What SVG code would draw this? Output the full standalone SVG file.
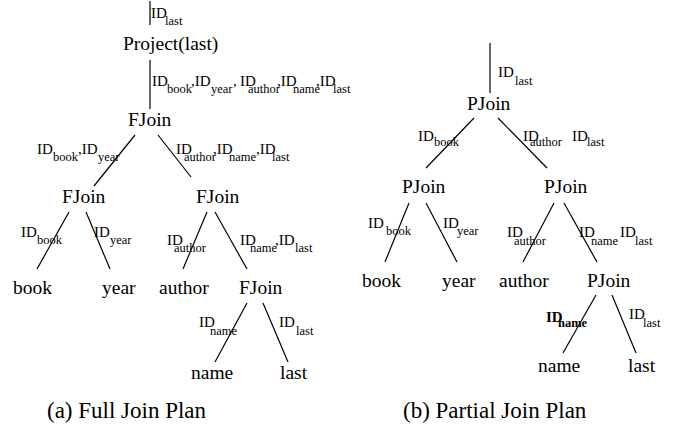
<svg xmlns="http://www.w3.org/2000/svg" width="673" height="428" viewBox="0 0 673 428">
<style>
.n{font-family:"Liberation Serif","Times New Roman",serif;font-size:19.5px;fill:#000}
.id{font-family:"Liberation Serif","Times New Roman",serif;font-size:15px;fill:#000}
.s{font-size:12.5px}
.b{font-weight:bold}
.cap{font-family:"Liberation Serif","Times New Roman",serif;font-size:23px;fill:#000}
line{stroke:#000;stroke-width:1.2}
</style>
<rect width="673" height="428" fill="#fff"/>
<g id="connectors">
<line x1="150" y1="1" x2="150" y2="25"/>
<line x1="150" y1="60" x2="150" y2="109"/>
<line x1="135" y1="135" x2="94" y2="186"/>
<line x1="158" y1="135" x2="191" y2="177"/>
<line x1="69" y1="212" x2="37" y2="269"/>
<line x1="86" y1="212" x2="110" y2="269"/>
<line x1="207" y1="212" x2="183" y2="269"/>
<line x1="215" y1="212" x2="247" y2="269"/>
<line x1="247" y1="303" x2="215" y2="362"/>
<line x1="263" y1="303" x2="288" y2="362"/>
<line x1="490" y1="43" x2="490" y2="93"/>
<line x1="474" y1="118" x2="426" y2="168"/>
<line x1="498" y1="118" x2="547" y2="168"/>
<line x1="409" y1="203" x2="385" y2="262"/>
<line x1="426" y1="203" x2="457" y2="262"/>
<line x1="554" y1="203" x2="523" y2="262"/>
<line x1="564" y1="203" x2="597" y2="262"/>
<line x1="596" y1="295" x2="563" y2="353"/>
<line x1="612" y1="295" x2="636" y2="353"/>
</g>
<g id="edge-labels">
<text class="id" x="151" y="18">ID<tspan class="s" x="165" y="25">last</tspan></text>
<text class="id" x="152" y="86">ID<tspan class="s" x="167" y="93">book</tspan><tspan x="191" y="86">,ID</tspan><tspan class="s" x="211" y="93">year</tspan><tspan x="233" y="86">,</tspan><tspan x="240" y="86">ID</tspan><tspan class="s" x="248" y="93">author</tspan><tspan x="277" y="86">,ID</tspan><tspan class="s" x="293" y="93">name</tspan><tspan x="316" y="86">,ID</tspan><tspan class="s" x="333" y="93">last</tspan></text>
<text class="id" x="37" y="154">ID<tspan class="s" x="53" y="161">book</tspan><tspan x="78" y="154">,ID</tspan><tspan class="s" x="98" y="161">year</tspan></text>
<text class="id" x="176" y="154">ID<tspan class="s" x="184" y="161">author</tspan><tspan x="213" y="154">,ID</tspan><tspan class="s" x="229" y="161">name</tspan><tspan x="256" y="154">,ID</tspan><tspan class="s" x="272" y="161">last</tspan></text>
<text class="id" x="21" y="237">ID<tspan class="s" x="37" y="244">book</tspan></text>
<text class="id" x="94" y="237">ID<tspan class="s" x="110" y="244">year</tspan></text>
<text class="id" x="167" y="245">ID<tspan class="s" x="174" y="252">author</tspan></text>
<text class="id" x="240" y="245">ID<tspan class="s" x="250" y="252">name</tspan><tspan x="275" y="245">,ID</tspan><tspan class="s" x="295" y="252">last</tspan></text>
<text class="id" x="199" y="327">ID<tspan class="s" x="210" y="335">name</tspan></text>
<text class="id" x="279" y="327">ID<tspan class="s" x="296" y="335">last</tspan></text>
<text class="id" x="498" y="77">ID<tspan class="s" x="515" y="85">last</tspan></text>
<text class="id" x="418" y="141">ID<tspan class="s" x="434" y="146">book</tspan></text>
<text class="id" x="523" y="141">ID<tspan class="s" x="530" y="146">author</tspan></text>
<text class="id" x="572" y="141">ID<tspan class="s" x="587" y="146">last</tspan></text>
<text class="id" x="368" y="228">ID<tspan class="s" x="386" y="235">book</tspan></text>
<text class="id" x="443" y="228">ID<tspan class="s" x="457" y="235">year</tspan></text>
<text class="id" x="507" y="237">ID<tspan class="s" x="514" y="245">author</tspan></text>
<text class="id" x="579" y="237">ID<tspan class="s" x="591" y="245">name</tspan></text>
<text class="id" x="620" y="237">ID<tspan class="s" x="635" y="245">last</tspan></text>
<text class="id b" x="546" y="322">ID<tspan class="s" x="558" y="327">name</tspan></text>
<text class="id" x="629" y="319">ID<tspan class="s" x="643" y="327">last</tspan></text>
</g>
<g id="project"><text class="n" x="123" y="50">Project(last)</text></g>
<g id="fjoin-root"><text class="n" x="128" y="126">FJoin</text></g>
<g id="fjoin-left"><text class="n" x="62" y="203">FJoin</text></g>
<g id="fjoin-right"><text class="n" x="196" y="203">FJoin</text></g>
<g id="a-book"><text class="n" x="13" y="294">book</text></g>
<g id="a-year"><text class="n" x="102" y="294">year</text></g>
<g id="a-author"><text class="n" x="159" y="294">author</text></g>
<g id="fjoin-low"><text class="n" x="239" y="294">FJoin</text></g>
<g id="a-name"><text class="n" x="191" y="379">name</text></g>
<g id="a-last"><text class="n" x="280" y="379">last</text></g>
<g id="pjoin-root"><text class="n" x="467" y="110">PJoin</text></g>
<g id="pjoin-left"><text class="n" x="402" y="193">PJoin</text></g>
<g id="pjoin-right"><text class="n" x="544" y="193">PJoin</text></g>
<g id="b-book"><text class="n" x="362" y="287">book</text></g>
<g id="b-year"><text class="n" x="442" y="287">year</text></g>
<g id="b-author"><text class="n" x="499" y="287">author</text></g>
<g id="pjoin-low"><text class="n" x="587" y="287">PJoin</text></g>
<g id="b-name"><text class="n" x="538" y="372">name</text></g>
<g id="b-last"><text class="n" x="628" y="372">last</text></g>
<g id="captions">
<text class="cap" x="47" y="418">(a) Full Join Plan</text>
<text class="cap" x="403" y="418">(b) Partial Join Plan</text>
</g>
</svg>
